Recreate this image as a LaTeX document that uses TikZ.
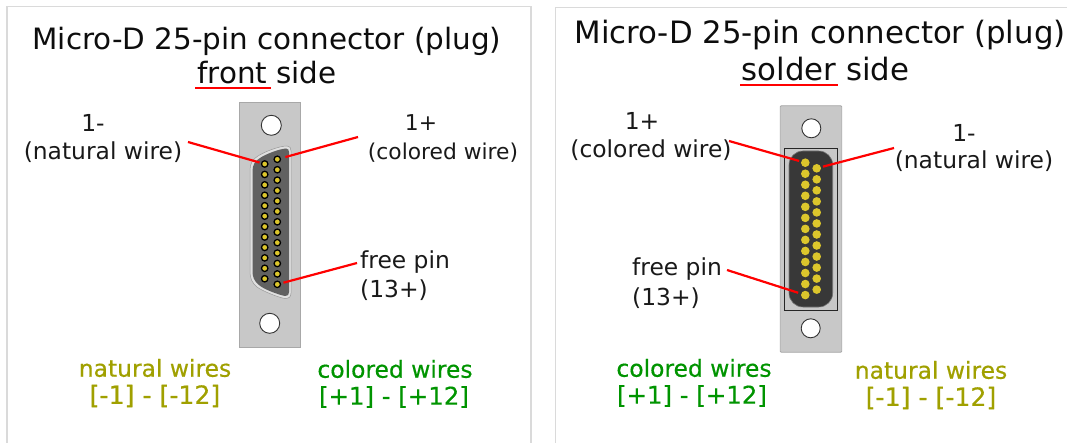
\documentclass[tikz,border=0pt]{standalone}
\usepackage{fontspec}
\setmainfont{DejaVu Sans}
\font\colfont="DejaVu Sans:embolden=0.5" at 23.4pt
\font\natbr="DejaVu Sans:embolden=0.5" at 25.2pt
\font\colbr="DejaVu Sans:embolden=0.5" at 24.4pt
\definecolor{frameg}{HTML}{DADADA}
\definecolor{plate}{HTML}{C8C8C8}
\definecolor{plateb}{HTML}{A8A8A8}
\definecolor{pinY}{HTML}{DCC62C}
\definecolor{olivetxt}{HTML}{A0A000}
\definecolor{greentxt}{HTML}{009400}
\tikzset{
  x=1pt,y=-1pt,
  frameline/.style={draw=frameg,line width=1.4pt},
  platebox/.style={fill=plate,draw=plateb,line width=.8pt},
  hole/.style={circle,draw=black!80,line width=.9pt,fill=white,minimum size=#1,inner sep=0pt},
  fpin/.style={circle,draw=black,line width=1.3pt,fill=pinY,minimum size=6.4pt,inner sep=0pt},
  spin/.style={circle,fill=pinY,minimum size=8.6pt,inner sep=0pt},
  leader/.style={draw=red,line width=2.2pt},
  title/.style={font=\fontsize{29.4}{34}\selectfont,text=black!95,inner sep=0pt},
  titleb/.style={font=\fontsize{30.8}{36}\selectfont,text=black!95,inner sep=0pt},
  lab/.style={font=\fontsize{23.4}{28}\selectfont,text=black!90,inner sep=0pt},
  labs/.style={font=\fontsize{21.8}{26}\selectfont,text=black!90,inner sep=0pt},
  nat/.style={font=\colfont,text=olivetxt,inner sep=0pt},
  natb/.style={font=\natbr,text=olivetxt,inner sep=0pt},
  col/.style={font=\colfont,text=greentxt,inner sep=0pt},
  colb/.style={font=\colbr,text=greentxt,inner sep=0pt},
}
\begin{document}
\begin{tikzpicture}
\useasboundingbox (0,0) rectangle (1067,443);
% panels
\draw[frameline] (7,443) -- (7,6.5) -- (531,6.5) -- (531,443);
\draw[frameline] (555.5,443) -- (555.5,7.5) -- (1067,7.5);
% titles
\node[title] (t1) at (267,41.5) {Micro-D 25-pin connector (plug)};
\node[title] (t2) at (267,73) {front side};
\node[titleb] (t3) at (820,35.5) {Micro-D 25-pin connector (plug)};
\node[titleb] (t4) at (825.5,69) {solder side};
\coordinate (u1a) at (195,88); \coordinate (u1b) at (271,88);
\coordinate (u2a) at (740,85); \coordinate (u2b) at (838,85);
\draw[leader] (u1a) -- (u1b);
\draw[leader] (u2a) -- (u2b);
% front connector
\draw[platebox] (239,102) rectangle (300.7,347.7);
\node[hole=20pt] (h1) at (271.3,125.3) {};
\node[hole=20pt] (h2) at (269.7,323.3) {};
\path[fill=black!12,draw=black!40,line width=.5pt]
  (287,146) .. controls (290,146) and (291,148) .. (291,151) -- (291,293)
  .. controls (291,297) and (289,298.5) .. (285,298.5)
  .. controls (280,298) and (262,291) .. (257,287)
  .. controls (252,283) and (250,278) .. (250,272) -- (250,170)
  .. controls (250,163) and (253,159) .. (258,156)
  .. controls (264,152) and (279,146) .. (287,146) -- cycle;
\path[fill=black!62]
  (286,148.5) .. controls (288,148.5) and (289,150) .. (289,152) -- (289,292)
  .. controls (289,295) and (288,296) .. (285,296)
  .. controls (279,295) and (263,289) .. (259,285)
  .. controls (254,281) and (252.5,277) .. (252.5,271) -- (252.5,171)
  .. controls (252.5,165) and (255,161) .. (260,158)
  .. controls (266,154) and (279,149) .. (286,148.5) -- cycle;
\foreach \i in {0,...,11} \node[fpin] (fa\i) at (264.7,164+10.43*\i) {};
\foreach \i in {0,...,12} \node[fpin] (fb\i) at (277.3,159.3+10.42*\i) {};
% solder connector
\draw[platebox,rounded corners=1pt] (780.3,105.7) rectangle (841.7,352.3);
\node[hole=19pt] (h3) at (811.3,128.3) {};
\node[hole=19pt] (h4) at (810.7,328.3) {};
\draw[draw=black!85,line width=.9pt] (784.7,148.3) rectangle (837.3,310.7);
\path[fill=black!78,draw=black!55,line width=.6pt,rounded corners=14pt] (789,151) rectangle (832.7,307);
\foreach \i in {0,...,12} \node[spin] (sa\i) at (805.3,162.7+11.03*\i) {};
\foreach \i in {0,...,11} \node[spin] (sb\i) at (816.7,168.3+11.03*\i) {};
% labels front
\node[lab] (l1) at (93,123) {1-};
\node[lab] (l2) at (103,152.5) {(natural wire)};
\node[labs] (l3) at (421,123) {1+};
\node[labs] (l4) at (443,153) {(colored wire)};
\node[lab,anchor=west] (l5) at (360,262.5) {free pin};
\node[lab,anchor=west] (l6) at (360,290) {(13+)};
\node[nat] (n1) at (155,368) {natural wires};
\node[natb] (n2) at (155,396) {[-1] - [-12]};
\node[col] (c1) at (395,369) {colored wires};
\node[colb] (c2) at (394,397) {[+1] - [+12]};
% labels solder
\node[lab] (l7) at (642,121) {1+};
\node[lab] (l8) at (651,150.5) {(colored wire)};
\node[lab] (l9) at (964,133) {1-};
\node[lab] (l10) at (974,161.5) {(natural wire)};
\node[lab,anchor=west] (l11) at (632,269.5) {free pin};
\node[lab,anchor=west] (l12) at (632,298) {(13+)};
\node[col] (c3) at (694,368) {colored wires};
\node[colb] (c4) at (692,396) {[+1] - [+12]};
\node[nat] (n3) at (931,370) {natural wires};
\node[natb] (n4) at (931,398) {[-1] - [-12]};
% leaders
\coordinate (a1) at (188,142); \coordinate (a2) at (358,137); \coordinate (a3) at (357,263);
\coordinate (a4) at (729,141); \coordinate (a5) at (894,148); \coordinate (a6) at (727,270);
\draw[leader,shorten >=1.5pt] (a1) -- (fa0);
\draw[leader,shorten >=4.5pt] (a2) -- (fb0);
\draw[leader,shorten >=2.5pt] (a3) -- (fb12);
\draw[leader,shorten >=2pt] (a4) -- (sa0);
\draw[leader,shorten >=2pt] (a5) -- (sb0);
\draw[leader,shorten >=3pt] (a6) -- (sa12);
\end{tikzpicture}
\end{document}
